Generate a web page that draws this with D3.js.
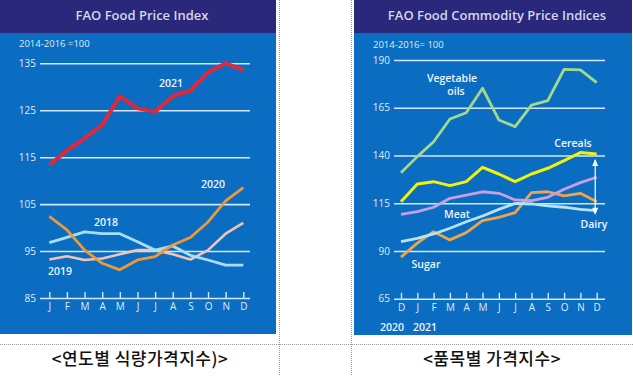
<!DOCTYPE html>
<html>
<head>
<meta charset="utf-8">
<script src="https://cdn.jsdelivr.net/npm/d3@7"></script>
<style>
  body { margin: 0; background: #fff; }
  svg { display: block; }
  .tick text { font-family: "Open Sans", sans-serif; }
</style>
</head>
<body>
<div id="chart"></div>
<script>
// left panel: yearly food price index
const months = ["J", "F", "M", "A", "M", "J", "J", "A", "S", "O", "N", "D"];
const leftTicks = [85, 95, 105, 115, 125, 135];
const fpi2018 = [96.8, 97.9, 99.1, 98.7, 98.7, 97.0, 95.2, 96.1, 94.1, 93.1, 92.0, 92.0];
const fpi2019 = [93.2, 93.9, 93.1, 93.4, 94.3, 95.2, 95.2, 94.3, 93.2, 95.2, 98.7, 101.0];
const fpi2020 = [102.4, 99.5, 95.2, 92.4, 91.0, 93.1, 93.8, 96.3, 97.9, 101.2, 105.7, 108.5];
const fpi2021 = [113.4, 116.4, 119.0, 121.9, 128.0, 125.4, 124.7, 128.0, 129.2, 133.1, 135.0, 133.6];

// right panel: commodity indices, Dec 2020 - Dec 2021
const months2 = ["D", "J", "F", "M", "A", "M", "J", "J", "A", "S", "O", "N", "D"];
const rightTicks = [65, 90, 115, 140, 165, 190];
const vegOils = [131.0, 139.4, 147.2, 159.1, 162.4, 175.2, 158.6, 155.1, 166.4, 168.7, 185.1, 184.8, 178.1];
const cereals = [115.8, 125.1, 126.3, 124.2, 126.3, 133.8, 130.3, 126.3, 130.3, 133.3, 137.3, 141.5, 140.8];
const meat = [109.2, 110.6, 112.9, 117.6, 119.3, 121.0, 120.2, 116.7, 116.3, 118.1, 122.3, 125.8, 128.6];
const sugar = [86.8, 94.1, 100.1, 95.8, 99.6, 105.9, 107.6, 110.1, 120.5, 121.0, 118.8, 120.2, 115.8];
const dairy = [94.9, 96.6, 98.9, 101.9, 105.3, 108.3, 111.8, 114.9, 114.6, 113.6, 112.9, 111.8, 111.1];

const W = 633, H = 376;
const headerCol = "#29287a", bodyCol = "#0b6dc2";
const gridCol = "#d4e8f7", textCol = "#dfecf9";
const font = "'Open Sans', sans-serif";

const svg = d3.select("#chart").append("svg")
    .attr("width", W).attr("height", H);

// table dotted lines
const dot = svg.append("g").attr("stroke", "#9a9a9a").attr("stroke-dasharray", "1,1");
dot.append("line").attr("x1", 0).attr("x2", W).attr("y1", 344.5).attr("y2", 344.5);
dot.append("line").attr("x1", 279.5).attr("x2", 279.5).attr("y1", 0).attr("y2", H);
dot.append("line").attr("x1", 351.5).attr("x2", 351.5).attr("y1", 0).attr("y2", H);

function panel(x0, x1, bottom, title) {
    const g = svg.append("g");
    g.append("rect").attr("x", x0).attr("y", 0).attr("width", x1 - x0).attr("height", bottom)
        .attr("fill", bodyCol);
    g.append("rect").attr("x", x0).attr("y", 0).attr("width", x1 - x0).attr("height", 33)
        .attr("fill", headerCol);
    g.append("text").attr("x", (x0 + x1) / 2 + 4).attr("y", 20)
        .attr("text-anchor", "middle")
        .attr("font-family", font).attr("font-size", 13).attr("font-weight", 600)
        .attr("fill", "#d6d6ee")
        .text(title);
    return g;
}

function axes(g, y, yTicks, gx0, gx1, labelX, x, tickVals, tickFmt, baseY) {
    const ya = g.append("g").attr("transform", `translate(${gx0},0)`)
        .call(d3.axisLeft(y).tickValues(yTicks).tickSize(-(gx1 - gx0)).tickPadding(gx0 - labelX));
    ya.select(".domain").remove();
    ya.selectAll(".tick line").attr("stroke", gridCol).attr("stroke-width", 1.6);
    ya.selectAll(".tick text").attr("fill", textCol).attr("font-size", 10).attr("font-family", font);

    const xa = g.append("g").attr("transform", `translate(0,${baseY})`)
        .call(d3.axisBottom(x).tickValues(tickVals).tickFormat(tickFmt)
            .tickSizeInner(-6).tickSizeOuter(0).tickPadding(5));
    xa.select(".domain").remove();
    xa.selectAll(".tick line").attr("stroke", gridCol).attr("stroke-width", 1.4);
    xa.selectAll(".tick text").attr("fill", textCol).attr("font-size", 10).attr("font-family", font);
}

function series(g, x, y, vals, color, w) {
    g.append("path").datum(vals)
        .attr("fill", "none").attr("stroke", color).attr("stroke-width", w)
        .attr("stroke-linejoin", "round")
        .attr("d", d3.line().x((d, i) => x(i)).y(d => y(d)));
}

function label(g, x, y, txt, anchor = "middle") {
    g.append("text").attr("x", x).attr("y", y).attr("text-anchor", anchor)
        .attr("font-family", font).attr("font-size", 10.5).attr("font-weight", 600)
        .attr("fill", "#eef5fc").text(txt);
}

// ---------- left panel ----------
const gl = panel(0, 276, 334, "FAO Food Price Index");
gl.append("text").attr("x", 19).attr("y", 47).attr("font-family", font)
    .attr("font-size", 9.5).attr("fill", textCol).text("2014-2016 =100");

const xL = d3.scaleLinear().domain([0, 11]).range([49.3, 243.3]);
const yL = d3.scaleLinear().domain([85, 135]).range([298, 63.3]);
axes(gl, yL, leftTicks, 40, 250, 36, xL, d3.range(12), i => months[i], 298);

series(gl, xL, yL, fpi2019, "#f3c3b6", 2.6);
series(gl, xL, yL, fpi2018, "#a9def6", 2.8);
series(gl, xL, yL, fpi2020, "#ec9a35", 2.8);
series(gl, xL, yL, fpi2021, "#e0283a", 4);

label(gl, 171, 87, "2021");
label(gl, 213, 188, "2020");
label(gl, 106, 226, "2018");
label(gl, 60, 275, "2019");

// ---------- right panel ----------
const gr = panel(354, 632, 335, "FAO Food Commodity Price Indices");
gr.append("text").attr("x", 373).attr("y", 48).attr("font-family", font)
    .attr("font-size", 9.5).attr("fill", textCol).text("2014-2016= 100");

const xR = d3.scaleLinear().domain([0, 12]).range([401, 596.7]);
const yR = d3.scaleLinear().domain([65, 190]).range([298.7, 60]);
axes(gr, yR, rightTicks, 394, 605, 390, xR, d3.range(13), i => months2[i], 298.7);

series(gr, xR, yR, sugar, "#eea54a", 2.8);
series(gr, xR, yR, meat, "#c99ee3", 2.8);
series(gr, xR, yR, dairy, "#b3e5f7", 2.8);
series(gr, xR, yR, vegOils, "#a3d98c", 2.8);
series(gr, xR, yR, cereals, "#f2f20a", 3);

label(gr, 452, 82, "Vegetable");
label(gr, 456, 95, "oils");
label(gr, 573, 147, "Cereals");
label(gr, 457, 218, "Meat");
label(gr, 426, 268, "Sugar");
label(gr, 594, 228, "Dairy");
label(gr, 392, 331, "2020");
label(gr, 425, 331, "2021");

// double arrow near dairy
const arrowX = xR(12) - 1.5;
gr.append("line").attr("x1", arrowX).attr("x2", arrowX)
    .attr("y1", yR(cereals[12]) + 6).attr("y2", yR(dairy[12]) + 3)
    .attr("stroke", "#fff").attr("stroke-width", 1.2);
gr.append("path")
    .attr("d", d3.line()([[arrowX - 3, yR(cereals[12]) + 12], [arrowX, yR(cereals[12]) + 5], [arrowX + 3, yR(cereals[12]) + 12]]))
    .attr("fill", "#fff");
gr.append("path")
    .attr("d", d3.line()([[arrowX - 3, yR(dairy[12]) - 3], [arrowX, yR(dairy[12]) + 4], [arrowX + 3, yR(dairy[12]) - 3]]))
    .attr("fill", "#fff");

// captions
svg.append("text").attr("x", 140).attr("y", 365).attr("text-anchor", "middle")
    .attr("font-family", "'Noto Sans CJK KR', sans-serif").attr("font-size", 17)
    .attr("font-weight", 500).attr("letter-spacing", 0.5)
    .attr("fill", "#111").text("<연도별 식량가격지수)>");
svg.append("text").attr("x", 492).attr("y", 365).attr("text-anchor", "middle")
    .attr("font-family", "'Noto Sans CJK KR', sans-serif").attr("font-size", 17)
    .attr("font-weight", 500).attr("letter-spacing", 0.5)
    .attr("fill", "#111").text("<품목별 가격지수>");
</script>
</body>
</html>
